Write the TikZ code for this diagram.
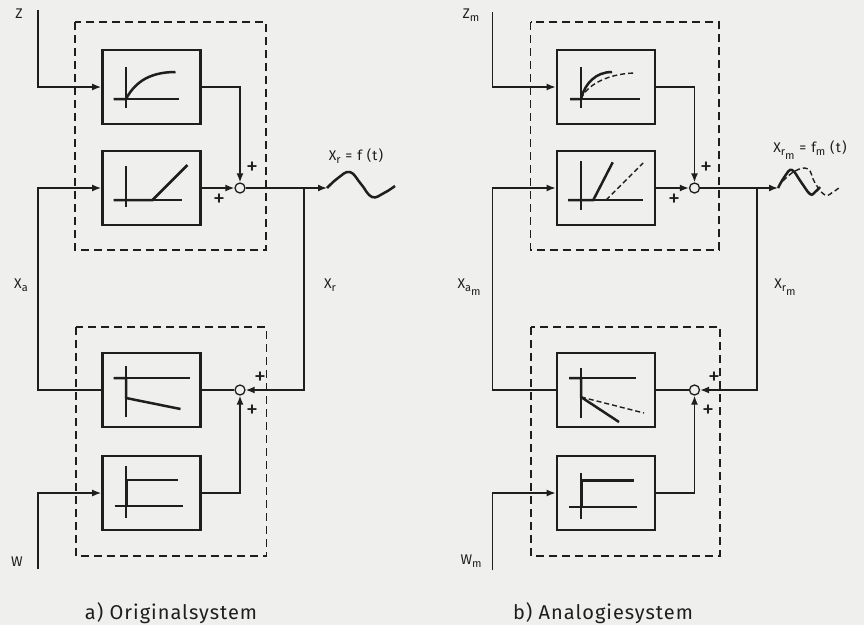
\documentclass[tikz,border=0pt]{standalone}
\usepackage{fontspec}
\setmainfont{Fira Sans}
\usetikzlibrary{arrows.meta}
\definecolor{paper}{RGB}{239,239,237}
\definecolor{ink}{RGB}{30,30,30}
\newcommand{\idx}[1]{\raisebox{-3.5pt}{\fontsize{11}{11}\selectfont#1}}

\begin{document}
\begin{tikzpicture}[x=1pt, y=-1pt, line width=1.5pt, draw=ink, ink,
  blk/.style={draw, line width=2.7pt, minimum width=98pt, minimum height=74pt, inner sep=0pt},
  sumpt/.style={draw, circle, line width=1.3pt, minimum size=10pt, inner sep=0pt, fill=paper},
  grp/.style={line width=1.4pt, dash pattern=on 8pt off 5pt},
  sig/.style={-{Latex[length=9pt,width=7pt]}},
  ax/.style={line width=1.1pt},
  crv/.style={line width=2.5pt},
  alt/.style={line width=1.4pt, dash pattern=on 5pt off 3pt},
  lbl/.style={font=\fontsize{14}{16}\selectfont\addfontfeature{LetterSpace=8}, inner sep=1pt},
  plus/.style={font=\fontsize{24}{24}\selectfont, inner sep=0pt},
  captxt/.style={font=\fontsize{20}{24}\selectfont\addfontfeature{LetterSpace=5}, inner sep=1pt}]
  \fill[paper] (0,0) rectangle (864,625);
  \useasboundingbox (0,0) rectangle (864,625);

  % a) Originalsystem
  \draw[grp] (75,22) rectangle (266,250);
  \draw[grp] (76,327) rectangle (266.5,556);
  \node[blk] (a1) at (151.5,87) {};
  \node[blk] (a2) at (151.5,188) {};
  \node[blk] (a3) at (151.5,390) {};
  \node[blk] (a4) at (151.5,493) {};
  \node[sumpt] (as1) at (240,188) {};
  \node[sumpt] (as2) at (240,390) {};
  \coordinate (aZ) at (38,10);
  \coordinate (aW) at (38,569);
  \coordinate (aL) at (38,188);
  \coordinate (aj) at (304,188);
  \coordinate (aout) at (327,188);
  \draw[sig] (aZ) |- (a1.west);
  \draw[sig] (a1.east) -| (as1.north);
  \draw[sig] (a2.east) -- (as1.west);
  \draw (as1.east) -- (aj);
  \draw[sig] (aj) -- (aout);
  \draw[sig] (aj) |- (as2.east);
  \draw (as2.west) -- (a3.east);
  \draw[sig] (a3.west) -| (aL) -- (a2.west);
  \draw[sig] (aW) |- (a4.west);
  \draw[sig] (a4.east) -| (as2.south);
  \begin{scope}[shift={(a1.center)}]
    \draw[ax] (-25.5,-20) -- (-25.5,21) (-38,12) -- (27,12);
    \draw[crv] (-38,12) -- (-25.5,12) .. controls (-18,-2) and (-5,-15) .. (24,-15);
  \end{scope}
  \begin{scope}[shift={(a2.center)}]
    \draw[ax] (-25.5,-22) -- (-25.5,19) (-38,12) -- (30,12);
    \draw[crv] (-38,12) -- (1,12) -- (36,-23);
  \end{scope}
  \begin{scope}[shift={(a3.center)}]
    \draw[ax] (-25.5,-24) -- (-25.5,27) (-38,-12) -- (38,-12);
    \draw[crv] (-38,-12) -- (-25.5,-12) -- (-25.5,8) -- (29,19);
  \end{scope}
  \begin{scope}[shift={(a4.center)}]
    \draw[ax] (-25.5,-27) -- (-25.5,25) (-37,13) -- (31,13);
    \draw[crv] (-37,13) -- (-24.5,13) -- (-24.5,-13) -- (26,-13);
  \end{scope}
  \draw[crv] plot[smooth, tension=0.7] coordinates {(aout) (338,178) (350,172) (361,184) (372,197) (384,193) (395,186)};
  \node[lbl] (aZl) at (19,14) {Z};
  \node[lbl] (aWl) at (17,562) {W};
  \node[lbl] (aXa) at (21,285) {X\idx{a}};
  \node[lbl] (aXr) at (330,285) {X\idx{r}};
  \node[lbl] (aout-l) at (356,156) {X\idx{r} = f (t)};
  \node[plus] (ap1) at (252,168) {+};
  \node[plus] (ap2) at (219,200) {+};
  \node[plus] (ap3) at (260,378) {+};
  \node[plus] (ap4) at (252,411) {+};
  \node[captxt] (acap) at (171,613) {a) Originalsystem};

  % b) Analogiesystem
  \draw[grp] (530.7,22) rectangle (719,250);
  \draw[grp] (531,327) rectangle (720,556);
  \node[blk] (b1) at (606,87) {};
  \node[blk] (b2) at (606,188) {};
  \node[blk] (b3) at (606,390) {};
  \node[blk] (b4) at (606,493) {};
  \node[sumpt] (bs1) at (694.5,188) {};
  \node[sumpt] (bs2) at (694.5,390) {};
  \coordinate (bZ) at (492.5,12);
  \coordinate (bW) at (492.5,570);
  \coordinate (bL) at (492.5,188);
  \coordinate (bj) at (757,188);
  \coordinate (bout) at (778,188);
  \draw[sig] (bZ) |- (b1.west);
  \draw[sig] (b1.east) -| (bs1.north);
  \draw[sig] (b2.east) -- (bs1.west);
  \draw (bs1.east) -- (bj);
  \draw[sig] (bj) -- (bout);
  \draw[sig] (bj) |- (bs2.east);
  \draw (bs2.west) -- (b3.east);
  \draw[sig] (b3.west) -| (bL) -- (b2.west);
  \draw[sig] (bW) |- (b4.west);
  \draw[sig] (b4.east) -| (bs2.south);
  \begin{scope}[shift={(b1.center)}]
    \draw[ax] (-25,-20) -- (-25,21) (-36,12) -- (34,12);
    \draw[alt] (-25,12) .. controls (-20,-1) and (0,-13) .. (28,-14);
    \draw[crv] (-36,12) -- (-25,12) .. controls (-21,-4) and (-10,-15) .. (6,-15);
  \end{scope}
  \begin{scope}[shift={(b2.center)}]
    \draw[ax] (-25,-27) -- (-25,22) (-38,12) -- (37,12);
    \draw[alt] (0,12) -- (37,-25);
    \draw[crv] (-38,12) -- (-12.7,12) -- (6.7,-25.7);
  \end{scope}
  \begin{scope}[shift={(b3.center)}]
    \draw[ax] (-25,-22) -- (-25,28) (-37,-12) -- (30,-12);
    \draw[alt] (-25,7) -- (38,23);
    \draw[crv] (-37,-12) -- (-25,-12) -- (-25,7) -- (13,32);
  \end{scope}
  \begin{scope}[shift={(b4.center)}]
    \draw[ax] (-25,-20) -- (-25,26) (-37,14) -- (31,14);
    \draw[crv] (-37,14) -- (-24.5,14) -- (-24.5,-12.5) -- (28,-12.5);
  \end{scope}
  \draw[alt] plot[smooth, tension=0.7] coordinates {(783,181) (795,171) (808,169) (815,183) (825,195) (833,192) (840,187)};
  \draw[crv] plot[smooth, tension=0.7] coordinates {(bout) (785,176) (792,170) (801,182) (810,194) (815,192) (820,187)};
  \node[lbl] (bZl) at (471,15) {Z\idx{m}};
  \node[lbl] (bWl) at (471,561) {W\idx{m}};
  \node[lbl] (bXa) at (469,287) {X\idx{a\idx{m}}};
  \node[lbl] (bXr) at (785,287) {X\idx{r\idx{m}}};
  \node[lbl] (bout-l) at (810,150) {X\idx{r\idx{m}} = f\idx{m} (t)};
  \node[plus] (bp1) at (706,168) {+};
  \node[plus] (bp2) at (674,200) {+};
  \node[plus] (bp3) at (714,378) {+};
  \node[plus] (bp4) at (708,411) {+};
  \node[captxt] (bcap) at (603,613) {b) Analogiesystem};
\end{tikzpicture}
\end{document}
